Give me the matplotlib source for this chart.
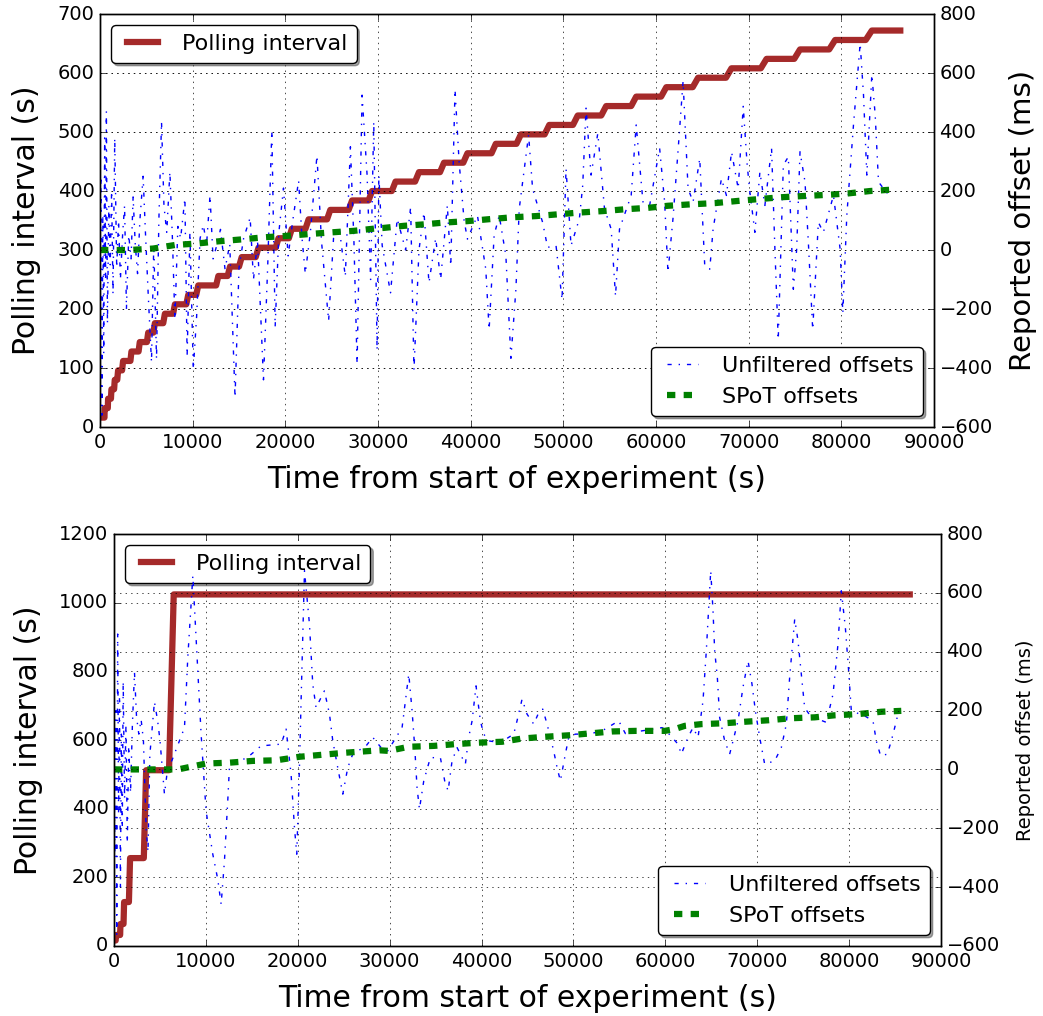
import matplotlib
matplotlib.use('Agg')
import matplotlib.pyplot as plt

plt.style.use('classic')

# ---------------- top panel data ----------------
top_poll_levels = [16, 32, 48, 64, 80, 96, 112, 128, 144, 160, 176, 192, 208, 224,
                   240, 256, 272, 288, 304, 320, 336, 352, 368, 384, 400, 416, 432,
                   448, 464, 480, 496, 512, 528, 544, 560, 576, 592, 608, 624, 640,
                   656, 672]
top_poll_start = [0, 500, 870, 1230, 1590, 1950, 2490, 3390, 4290, 5200, 5920, 7000,
                  8080, 9520, 10600, 12770, 14030, 15290, 17100, 19260, 20700, 22510,
                  24850, 27200, 29360, 31890, 34420, 37120, 39650, 42710, 45420, 48480,
                  51550, 54620, 57860, 61110, 64540, 68140, 71930, 75540, 79330, 83290]
top_poll_end = [480, 840, 1180, 1520, 1860, 2380, 3280, 4160, 5060, 5760, 6820, 7890,
                9310, 10380, 12530, 13770, 15000, 16800, 18960, 20380, 22170, 24500,
                26830, 28980, 31490, 34000, 36690, 39200, 42250, 44940, 47980, 51040,
                54090, 57320, 60550, 63960, 67550, 71310, 74920, 78690, 82630, 86360]

top_unf_t = [0, 100, 200, 300, 400, 500, 600, 686, 800, 950, 1100, 1250, 1400, 1588,
             1800, 2000, 2200, 2450, 2650, 2850, 3100, 3350, 3570, 3800, 4050, 4300,
             4650, 4900, 5200, 5555, 5800, 6096, 6350, 6637, 6900, 7200, 7540, 7800,
             8080, 8400, 8700, 9160, 9400, 9700, 10064, 10425, 10800, 11146, 11500,
             11870, 12200, 12590, 13000, 13490, 14000, 14570, 15000, 15500, 16200,
             16560, 17000, 17640, 18100, 18540, 18900, 19300, 19800, 20300, 20800,
             21430, 21800, 22150, 22700, 23410, 23900, 24670, 25200, 25800, 26470,
             27020, 27400, 27740, 28280, 28820, 29200, 29540, 29900,
             30090, 30450, 31350, 32070, 32980, 33520, 33880, 34420, 34960, 35500,
             36220, 36760, 37480, 37850, 38310, 38750, 39290, 39650, 40730, 41630,
             41990, 42530, 43080, 43800, 44340, 44880, 45240, 46250, 46680, 47760,
             48300, 49210, 49860, 50290, 50830, 51730, 52090, 52450, 52990, 53720,
             54440, 55160, 55630, 56060, 57320, 57860, 58590, 59310, 60390,
             60930, 61290, 61830, 62370, 62920, 63460, 64000, 64720, 65260, 65800,
             66160, 67060, 67600, 68150, 68870, 69410, 69840, 70130, 70670, 71210,
             71750, 72470, 72830, 73190, 73740, 74280, 74820, 75180, 75540, 76080,
             76440, 76910, 77520, 78060, 79150, 79870, 80160, 80590, 81310, 82030,
             82390, 82750, 83290, 83650, 84010, 84560, 85460]
top_unf_ms = [-200, 250, -560, 120, -350, 380, -100, 470, -250, 150, -50, 200, -150, 380,
              -60, 100, -100, 60, 150, -200, 50, -30, 180, 20, -80, 100,
              250, 60, -150, -380, 20, -370, 100, 435, 150, 60, 265, 50,
              -235, 80, 40, 175, -360, 60, -405, -225, 40, 85, 20,
              185, -30, 15, 70, -65, 20, -500, -60, 40, 110,
              -100, 30, -440, -50, 405, -260, 60, 210, -20, 100,
              235, 40, -80, 60, 320, 30, -240, 40, 80, -90,
              350, 30, -385, 525, 255, -100, 435, -340,
              254, 15, -145, 106, 0, 145, -407, 0, 128, -111,
              40, -99, 151, -54, 544, 299, 100, 37, 117, -65,
              -270, 50, 117, -20, -367, -133, 140, 390, 208, 94,
              9, 15, -168, 276, 15, 106, 219, 481, 254, 396,
              140, 71, -156, 71, 185, 424, 163, 151, 345,
              163, -76, 106, 333, 572, 208, 163, 310, -54, -65,
              71, 242, 185, 333, 208, 487, 288, 197, 60, 265,
              151, 345, 3, -304, 288, 316, -133, 3, 333, 231,
              26, -270, 94, 60, 185, 3, -213, 117, 424, 700,
              527, 254, 595, 459, 231, 208, 174]

top_spot_t = [0, 325, 3210, 5735, 8080, 10425, 12950, 15290, 17640, 20160, 22510,
              25030, 27380, 29720, 30630, 32800, 34960, 37120, 39650, 42170, 44520,
              47040, 49390, 51730, 54260, 56600, 59130, 61290, 63820, 66340, 68690,
              71210, 73550, 75900, 78430, 80770, 83110, 85640]
top_spot_ms = [0, 0, 0, 5, 17, 22, 30, 36, 43, 48, 54, 60, 65, 73, 75, 82, 87, 93,
               98, 105, 111, 115, 121, 127, 132, 138, 143, 150, 155, 159, 166, 173,
               179, 183, 187, 192, 200, 205]

# ---------------- bottom panel data ----------------
bot_poll_levels = [16, 32, 64, 128, 256, 512, 1024]
bot_poll_start = [0, 200, 700, 1100, 1750, 3500, 6500]
bot_poll_end = [184, 668, 1036, 1622, 3244, 5988, 86600]

bot_unf_t = [0, 100, 200, 300, 400, 500, 600, 700, 800, 900, 1000, 1150, 1300, 1450,
             1600, 1800, 2000, 2230, 2450, 2700, 2950, 3200, 3500, 3700, 3900, 4100,
             4400, 4750, 5000, 5490, 5850, 6300, 7670, 8030, 8580, 9120, 9480, 10020,
             10750, 11290, 11660, 12020, 12380, 12560, 12750, 14500, 16000, 18190,
             18730, 19270, 19640, 19890, 20180, 20360, 20730, 21270, 21630, 21990,
             22360, 22900, 23450, 23810, 24350, 24900, 25440, 25980, 27430, 28160,
             29070, 29790,
             31350, 32080, 32440, 32730, 32980, 33240, 33710, 34430, 35520, 35990,
             36360, 36790, 37340, 38240, 38600, 38970, 39400, 39870, 40240, 40780,
             42050, 43500, 43860, 44410, 44950, 45680, 46220, 46660, 47130, 47490,
             47850, 48220, 48580, 49120, 49490, 50210, 51660, 53110, 54020, 54930,
             55650, 57470, 59640,
             59930, 61380, 61740, 62470, 63010, 63560, 64100, 64460, 64720, 64940,
             65190, 65370, 65660, 65910, 66460, 67000, 67370, 67910, 68450, 69000,
             69430, 69800, 70270, 70810, 71900, 72620, 73170, 73530, 74080, 74440,
             74800, 75160, 75890, 76610, 77520, 78250, 78790, 79150, 79590, 79950,
             80240, 81690, 82600, 82960, 83430, 84160, 84590, 84960, 85320]
bot_unf_ms = [0, -300, 200, -560, 460, -150, 250, -400, 120, -200, 300, -100, 150, -250,
              80, -80, 150, 330, 180, 120, 170, 100, -200, -280, 50, 120,
              230, 165, 100, -84, 6, 30, 142, 380, 658, 335, 120, -141,
              -288, -373, -458, -311, -107, 6, 18, 40, 80, 86,
              137, -16, -198, -288, 6, 233, 675, 494, 290, 210,
              233, 267, 188, 97, 6, -84, 6, 52, 80, 109,
              74, 63,
              142, 324, 199, 74, -62, -135, -39, 40, 40, -39,
              -73, 29, 74, 18, 109, 165, 284, 165, 120, 97,
              91, 120, 165, 239, 188, 154, 193, 205, 154, 109,
              63, 6, -39, 52, 109, 120, 120, 131, 148, 165,
              122, 131, 142,
              137, 86, 52, 109, 142, 109, 233, 403, 551, 675,
              539, 403, 313, 177, 97, 52, 97, 165, 279, 369,
              290, 199, 109, 18, 29, 74, 154, 313, 511, 437,
              324, 210, 177, 171, 160, 256, 426, 607, 483, 335,
              199, 182, 165, 97, 46, 52, 97, 142, 188]

bot_spot_t = [0, 6300, 7120, 10020, 12560, 15100, 17640, 20180, 22720, 25260, 28890,
              29900, 32080, 34800, 37150, 39690, 42230, 44410, 46950, 49490, 51660,
              54200, 56740, 58920, 59930, 61020, 62110, 63920, 66460, 68640, 71170,
              73710, 76250, 78430, 80970, 83510, 85680]
bot_spot_ms = [0, 0, 1, 20, 23, 29, 31, 43, 50, 57, 65, 63, 77, 80, 86, 91, 94, 105,
               111, 116, 122, 129, 131, 131, 131, 137, 148, 154, 157, 162, 167, 174,
               177, 184, 188, 196, 199]


def staircase(levels, starts, ends):
    xs, ys = [], []
    for lv, s, e in zip(levels, starts, ends):
        xs += [s, e]
        ys += [lv, lv]
    return xs, ys


fig = plt.figure(figsize=(10.43, 10.16), dpi=100, facecolor='white')

panels = [
    dict(rect=[0.0959, 0.5797, 0.7996, 0.4065], poll=(top_poll_levels, top_poll_start, top_poll_end),
         unf=(top_unf_t, top_unf_ms), spot=(top_spot_t, top_spot_ms), ylim=(0, 700),
         yticks=range(0, 701, 100), rsize=21),
    dict(rect=[0.1093, 0.0689, 0.7929, 0.4055], poll=(bot_poll_levels, bot_poll_start, bot_poll_end),
         unf=(bot_unf_t, bot_unf_ms), spot=(bot_spot_t, bot_spot_ms), ylim=(0, 1200),
         yticks=range(0, 1201, 200), rsize=14),
]

for p in panels:
    ax = fig.add_axes(p['rect'])
    px, py = staircase(*p['poll'])
    l1, = ax.plot(px, py, color='#a52a2a', lw=4.5, label='Polling interval')
    ax.set_xlim(0, 90000)
    ax.set_ylim(*p['ylim'])
    ax.set_yticks(list(p['yticks']))
    ax.set_xticks(range(0, 90001, 10000))
    ax.tick_params(labelsize=14)
    ax.set_xlabel('Time from start of experiment (s)', fontsize=21.5, labelpad=10)
    ax.set_ylabel('Polling interval (s)', fontsize=21.5, labelpad=12)
    ax.grid(True)
    ax.legend(handles=[l1], loc='upper left', fancybox=True, shadow=True, fontsize=16)

    ax2 = ax.twinx()
    l2, = ax2.plot(p['unf'][0], p['unf'][1], 'b-.', lw=1, label='Unfiltered offsets')
    l3, = ax2.plot(p['spot'][0], p['spot'][1], 'g--', lw=4.5, label='SPoT offsets')
    ax2.set_xlim(0, 90000)
    ax2.set_ylim(-600, 800)
    ax2.set_yticks(range(-600, 801, 200))
    ax2.tick_params(labelsize=14)
    ax2.set_ylabel('Reported offset (ms)', fontsize=p['rsize'], labelpad=12)
    ax2.grid(True)
    ax2.legend(handles=[l2, l3], loc='lower right', fancybox=True, shadow=True, fontsize=16)

fig.savefig('out.png', dpi=100, facecolor='white')
